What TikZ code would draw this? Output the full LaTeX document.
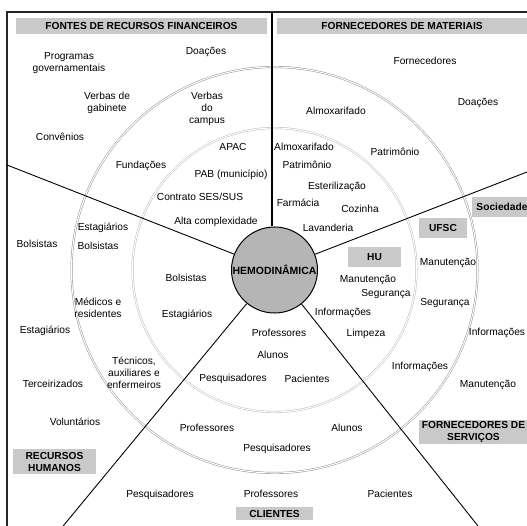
\documentclass[tikz,border=0pt]{standalone}
\usepackage{fontspec}
\setmainfont{Liberation Sans}
\begin{document}
\begin{tikzpicture}[x=1pt,y=-1pt,
  txt/.style={font=\fontsize{10.2}{12}\selectfont, inner sep=0pt, text height=7.5pt, text depth=1.5pt},
  mtxt/.style={font=\fontsize{10.2}{12}\selectfont, inner sep=0pt, align=center},
  lbl/.style={font=\fontsize{10.2}{12}\selectfont\bfseries, fill=gray!42, inner sep=0pt, align=center},
  ray/.style={draw=black, line width=0.9pt},
  frame/.style={draw=black!85, line width=1.3pt},
  outerring/.style={draw=gray!90, line width=0.45pt, double=white, double distance=1.1pt},
  innerring/.style={draw=gray!55, line width=0.45pt, double=white, double distance=1.1pt}]
\useasboundingbox (0,0) rectangle (527,526);
\clip (0,0) rectangle (527,526);
\fill[white] (0,0) rectangle (527,526);

% frame
\coordinate (fc) at (7,12);
\coordinate (fr) at (540,12);
\coordinate (fb) at (7,540);
\draw[frame] (fb) -- (fc) -- (fr);

% rings
\coordinate (ctr) at (274.5,270);
\draw[outerring] (ctr) circle[radius=203];
\draw[innerring] (ctr) circle[radius=142];

% centre
\node[circle, draw=black, line width=1pt, fill=gray!58, minimum size=86pt, inner sep=0pt,
      font=\fontsize{10.5}{12}\selectfont\bfseries] (hemo) at (ctr) {HEMODINÂMICA};

% rays
\coordinate (vtop) at (272,12);
\coordinate (eL) at (7,165);
\coordinate (eR) at (545,165);
\coordinate (eBL) at (59,531);
\coordinate (eBR) at (482,531);
\draw[ray, line width=1.3pt] (vtop) -- (vtop |- hemo.north);
\draw[ray] (hemo) -- (eL);
\draw[ray] (hemo) -- (eR);
\draw[ray] (hemo) -- (eBL);
\draw[ray] (hemo) -- (eBR);

% section labels
\node[lbl, minimum width=251pt, minimum height=15.5pt] (l1) at (141.5,26) {FONTES DE RECURSOS FINANCEIROS};
\node[lbl, minimum width=250pt, minimum height=15.5pt] (l2) at (402,26) {FORNECEDORES DE MATERIAIS};
\node[lbl, minimum width=60pt, minimum height=20pt] (l3) at (502,207) {Sociedade};
\node[lbl, minimum width=48pt, minimum height=20pt] (l4) at (443,228) {UFSC};
\node[lbl, minimum width=53pt, minimum height=20pt] (l5) at (374.5,257) {HU};
\node[lbl, minimum width=83pt, minimum height=25pt] (l6) at (54.5,461.5) {RECURSOS\\HUMANOS};
\node[lbl, minimum width=77pt, minimum height=13.5pt] (l7) at (274.5,513.5) {CLIENTES};
\node[lbl, minimum width=109pt, minimum height=24pt] (l8) at (473.5,432) {FORNECEDORES DE\\SERVIÇOS};

% texts
\node[mtxt] (t1) at (69,63) {Programas\\governamentais};
\node[txt] (t2) at (206,52) {Doações};
\node[mtxt] (t3) at (107,103) {Verbas de\\gabinete};
\node[mtxt] (t4) at (207,109) {Verbas\\do\\campus};
\node[txt] (t5) at (60,138) {Convênios};
\node[txt] (t6) at (141,166) {Fundações};
\node[txt] (t7) at (233,148) {APAC};
\node[txt] (t8) at (231,175) {PAB (município)};
\node[txt] (t9) at (200,198) {Contrato SES/SUS};
\node[txt] (t10) at (216,222) {Alta complexidade};
\node[txt] (t11) at (103,228) {Estagiários};
\node[txt] (t12) at (98,247) {Bolsistas};
\node[txt] (t13) at (37,245) {Bolsistas};
\node[txt] (t14) at (186,279) {Bolsistas};
\node[mtxt] (t15) at (98,308) {Médicos e\\residentes};
\node[txt] (t16) at (187,315) {Estagiários};
\node[txt] (t17) at (45,331) {Estagiários};
\node[txt] (t18) at (279,333) {Professores};
\node[txt] (t19) at (337,187) {Esterilização};
\node[txt] (t20) at (298,204) {Farmácia};
\node[txt] (t21) at (360,210) {Cozinha};
\node[txt] (t22) at (328,229) {Lavanderia};
\node[txt] (t23) at (368,280) {Manutenção};
\node[txt] (t24) at (386,294) {Segurança};
\node[txt] (t25) at (343,313) {Informações};
\node[txt] (t26) at (366,333) {Limpeza};
\node[txt] (t27) at (448,263) {Manutenção};
\node[txt] (t28) at (445,303) {Segurança};
\node[txt] (t29) at (497,332) {Informações};
\node[txt] (t30) at (425,62) {Fornecedores};
\node[txt] (t31) at (478,103) {Doações};
\node[txt] (t32) at (336,112) {Almoxarifado};
\node[txt] (t33) at (304,148) {Almoxarifado};
\node[txt] (t34) at (395,153) {Patrimônio};
\node[txt] (t35) at (307,166) {Patrimônio};
\node[mtxt] (t36) at (134,373) {Técnicos,\\auxiliares e\\enfermeiros};
\node[txt] (t37) at (53,384) {Terceirizados};
\node[txt] (t38) at (75,422) {Voluntários};
\node[txt] (t39) at (233,378) {Pesquisadores};
\node[txt] (t40) at (273,356) {Alunos};
\node[txt] (t41) at (207,428) {Professores};
\node[txt] (t42) at (277,448) {Pesquisadores};
\node[txt] (t43) at (160,494) {Pesquisadores};
\node[txt] (t44) at (271,494) {Professores};
\node[txt] (t45) at (307,379) {Pacientes};
\node[txt] (t46) at (420,366) {Informações};
\node[txt] (t47) at (488,384) {Manutenção};
\node[txt] (t48) at (347,428) {Alunos};
\node[txt] (t49) at (390,494) {Pacientes};
\end{tikzpicture}
\end{document}
